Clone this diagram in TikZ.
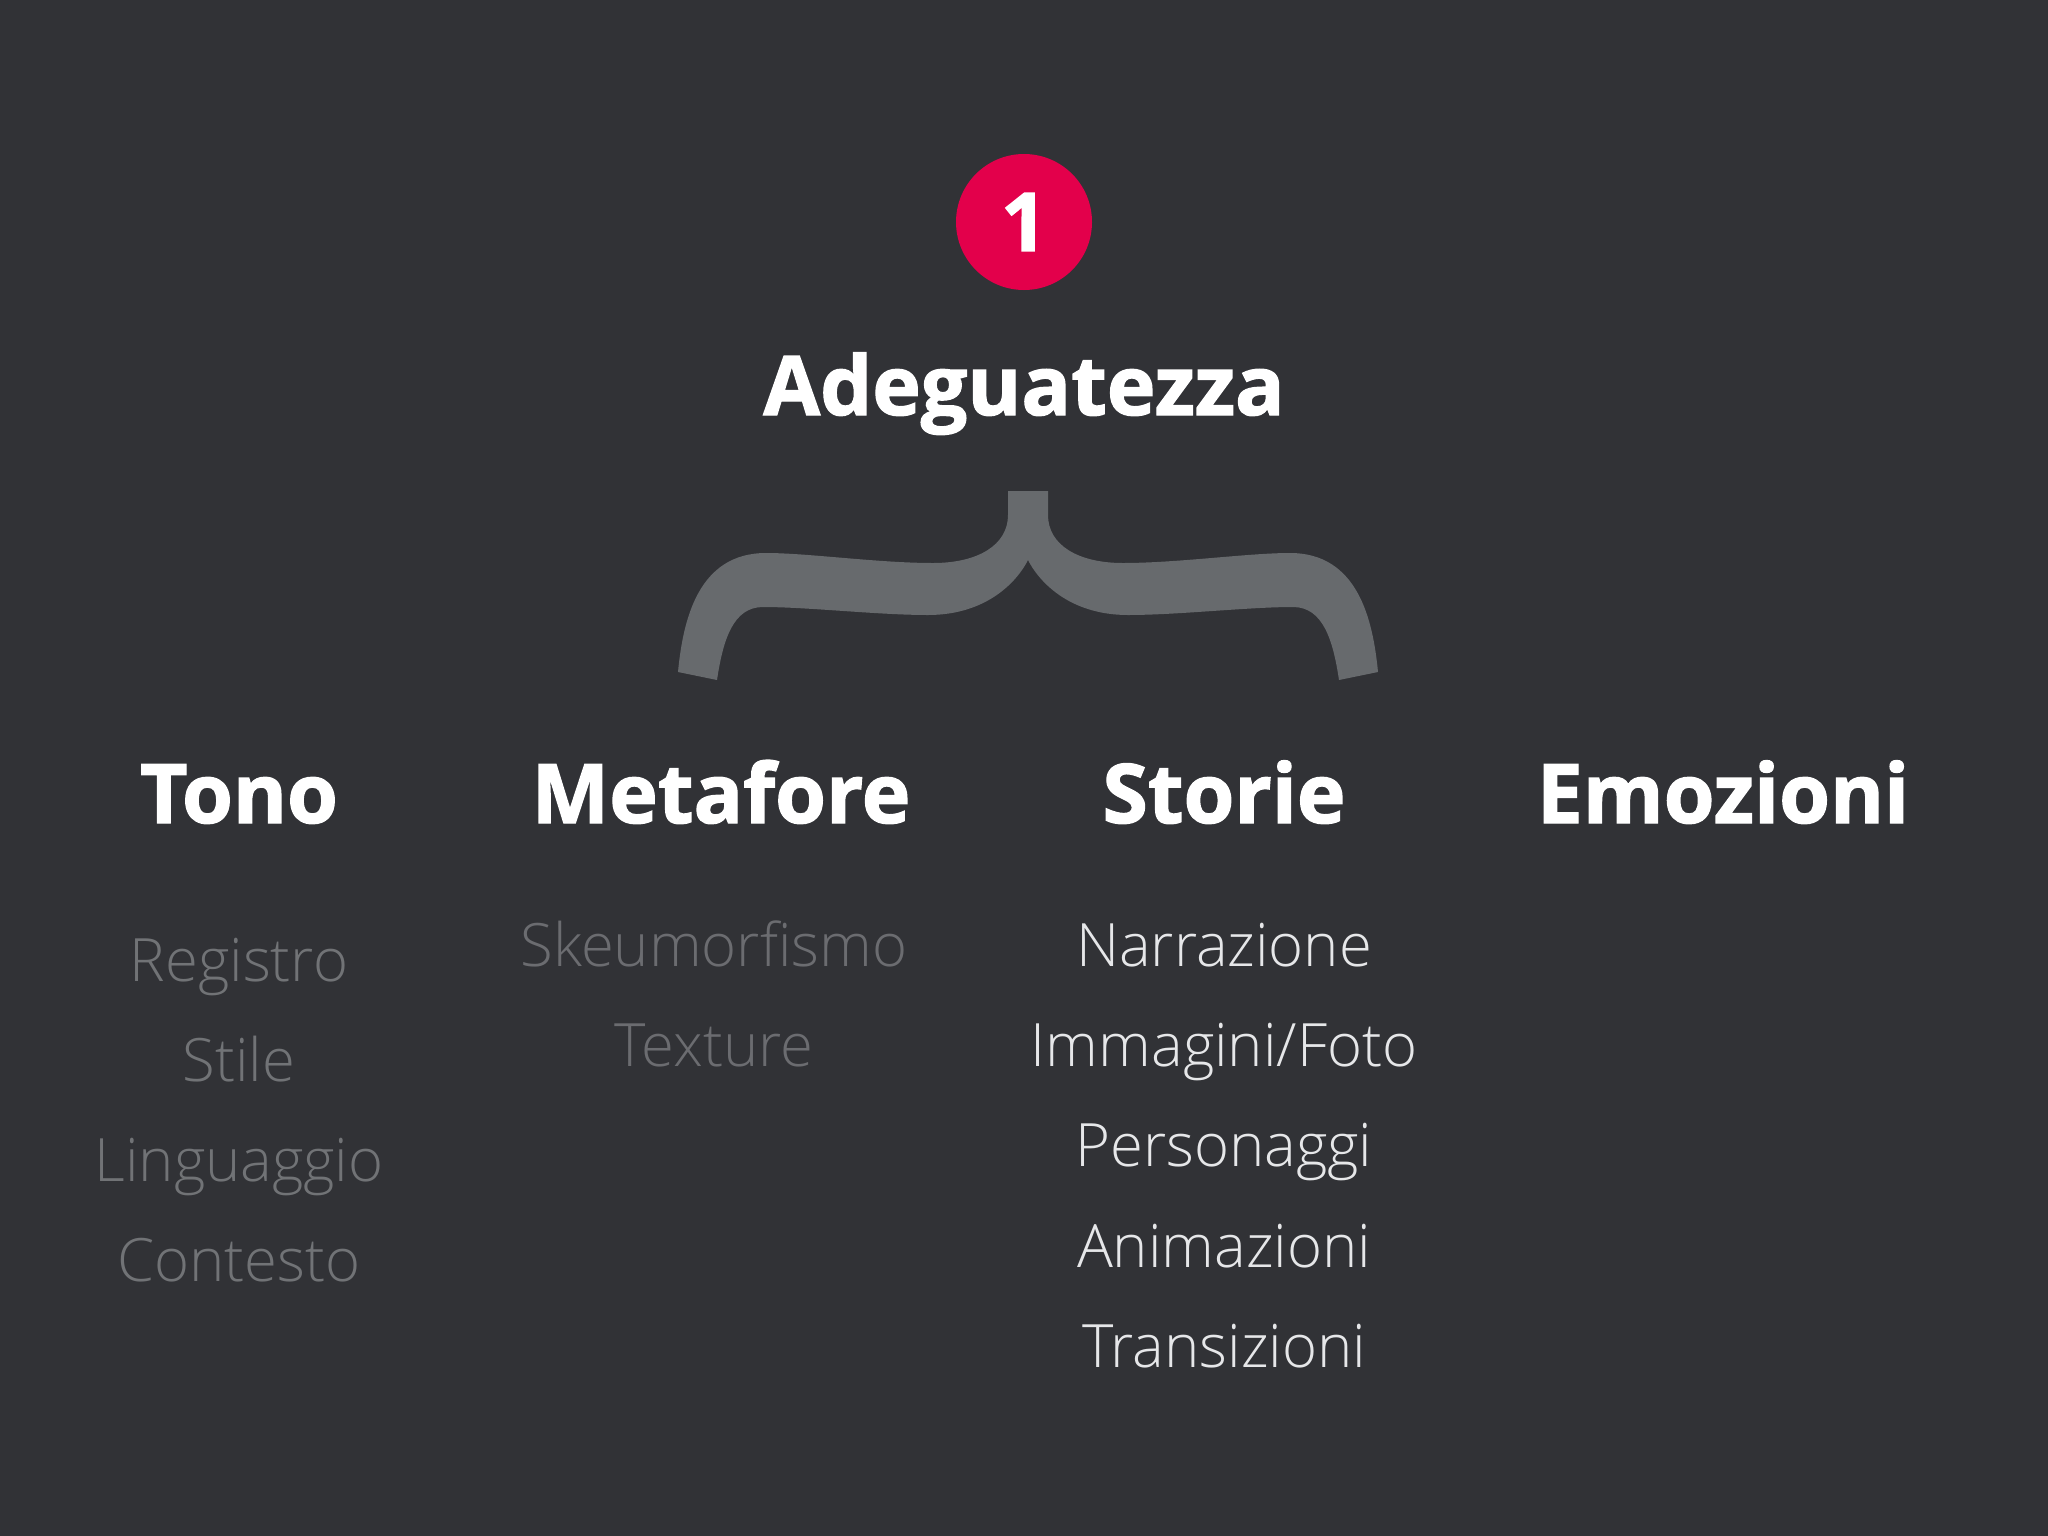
\documentclass[tikz,border=0pt]{standalone}
\usepackage{xcolor}
\usepackage{fontspec}
\setmainfont{Open Sans}[UprightFont=* Light, BoldFont=* Bold, BoldFeatures={FakeBold=1.6}]
\definecolor{sfondo}{HTML}{313236}
\definecolor{graffa}{HTML}{676A6D}
\definecolor{rosso}{HTML}{E3004B}
\definecolor{grigio}{HTML}{717376}
\definecolor{chiaro}{HTML}{E6E7E9}

\begin{document}
\begin{tikzpicture}[x=0.01cm, y=-0.01cm,
    titolo/.style={anchor=base, inner sep=0pt, text=white, font=\fontsize{23.4}{28}\selectfont\bfseries},
    voce/.style={anchor=base, inner sep=0pt, font=\fontsize{17}{20}\selectfont}]
            \fill[sfondo] (0, 0) rectangle (2048, 1536);

            \node[circle, fill=rosso, minimum size=136*0.01cm, inner sep=0pt, text=white, font=\fontsize{23}{28}\selectfont\bfseries] (uno) at (1024, 222) {1};
            \node[titolo] (adeg) at (1024, 415) {Adeguatezza};

            \fill[graffa, shift={(1028, 0)}] (-20, 491) -- (20, 491) -- (20, 515)
                .. controls (20, 545) and (50, 563) .. (95, 563)
                .. controls (150, 563) and (220, 553) .. (262, 553)
                .. controls (330, 553) and (345, 620) .. (350, 672) -- (311, 680)
                .. controls (305, 640) and (295, 607) .. (265, 607)
                .. controls (220, 607) and (150, 615) .. (100, 615)
                .. controls (40, 615) and (10, 580) .. (0, 560)
                .. controls (-10, 580) and (-40, 615) .. (-100, 615)
                .. controls (-150, 615) and (-220, 607) .. (-265, 607)
                .. controls (-295, 607) and (-305, 640) .. (-311, 680) -- (-350, 672)
                .. controls (-345, 620) and (-330, 553) .. (-262, 553)
                .. controls (-220, 553) and (-150, 563) .. (-95, 563)
                .. controls (-50, 563) and (-20, 545) .. (-20, 515) -- cycle;

            \node[titolo] (tono) at (239, 823) {Tono};
            \node[titolo] (metafore) at (721, 823) {Metafore};
            \node[titolo] (storie) at (1224, 823) {Storie};
            \node[titolo] (emozioni) at (1723, 823) {Emozioni};

            \foreach \t [count=\i] in {Registro, Stile, Linguaggio, Contesto} {
                \node[voce, text=grigio] (tono\i) at (239, 881+\i*100) {\t};
            };
            \foreach \t [count=\i] in {Skeumorfismo, Texture} {
                \node[voce, text=grigio!90!sfondo] (metafore\i) at (714, 866+\i*100.3) {\t};
            };
            \foreach \t [count=\i] in {Narrazione, Immagini/Foto, Personaggi, Animazioni, Transizioni} {
                \node[voce, text=chiaro] (storie\i) at (1224, 866+\i*100.3) {\t};
            };
        \end{tikzpicture}
\end{document}
